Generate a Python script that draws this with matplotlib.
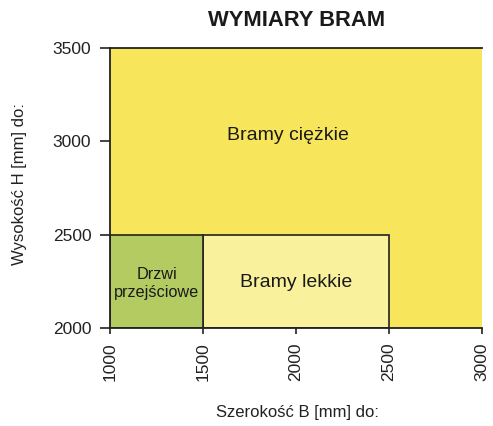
import matplotlib
matplotlib.use("Agg")
import matplotlib.pyplot as plt
from matplotlib.patches import Rectangle

plt.rcParams['font.family'] = ['Liberation Sans', 'DejaVu Sans']

# Regions: (name, x0, x1, y0, y1)
names = ["Bramy ciężkie", "Bramy lekkie", "Drzwi\nprzejściowe"]
x_start = [1000, 1500, 1000]
x_end = [3000, 2500, 1500]
y_start = [2000, 2000, 2000]
y_end = [3500, 2500, 2500]
label_x = [1955, 2000, 1250]
label_y = [3030, 2245, 2238]
colors = ["#F7E55C", "#FAF19C", "#B4CB62"]
font_sizes = [14, 14, 11.7]

xticks = [1000, 1500, 2000, 2500, 3000]
yticks = [2000, 2500, 3000, 3500]

fig = plt.figure(figsize=(4.93, 4.26), dpi=100)
ax = fig.add_axes([110/493, 1-328/426, 372/493, 280/426])

for i, n in enumerate(names):
    w = x_end[i] - x_start[i]
    h = y_end[i] - y_start[i]
    if i == 0:
        ax.add_patch(Rectangle((x_start[i], y_start[i]), w, h, facecolor=colors[i],
                               edgecolor='none', zorder=1))
        ax.plot([x_start[i], x_end[i]], [y_end[i], y_end[i]], color='#222222', lw=1.3,
                zorder=3, clip_on=False)
    else:
        ax.add_patch(Rectangle((x_start[i], y_start[i]), w, h, facecolor=colors[i],
                               edgecolor='#222222', lw=1.2, zorder=2))
    ax.text(label_x[i], label_y[i], n, ha='center', va='center',
            fontsize=font_sizes[i], color='#1a1a1a', zorder=4, linespacing=1.25)

ax.set_xlim(1000, 3000)
ax.set_ylim(2000, 3500)
ax.set_xticks(xticks)
ax.set_yticks(yticks)
ax.set_xticklabels([str(t) for t in xticks], rotation=90, fontsize=12.5, color='#222222')
ax.set_yticklabels([str(t) for t in yticks], fontsize=12.5, color='#222222')
ax.tick_params(axis='x', direction='out', length=4.5, width=1.2, color='#222222', pad=6)
ax.tick_params(axis='y', direction='out', length=7.5, width=1.2, color='#222222', pad=6)
for s in ['top', 'right']:
    ax.spines[s].set_visible(False)
for s in ['left', 'bottom']:
    ax.spines[s].set_linewidth(1.3)
    ax.spines[s].set_color('#222222')
    ax.spines[s].set_zorder(5)

fig.text(297/493, 1-412/426, "Szerokość B [mm] do:", ha='center', va='center',
         fontsize=12, color='#222222')
fig.text(20/493, 1-184/426, "Wysokość H [mm] do:", ha='center', va='center',
         fontsize=12, color='#222222', rotation=90)
fig.text(297/493, 1-20/426, "WYMIARY BRAM", ha='center', va='center',
         fontsize=15.8, fontweight='bold', color='#1a1a1a')

fig.savefig("out.png", dpi=100)
